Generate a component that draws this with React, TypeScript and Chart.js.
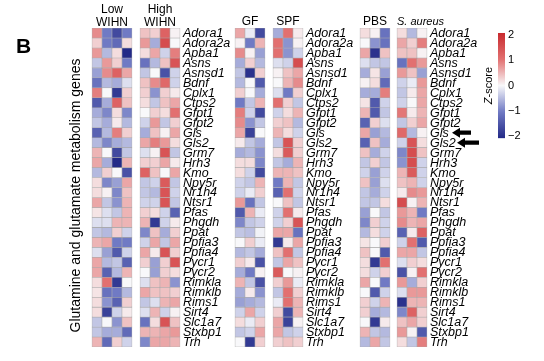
import React, { useEffect, useRef } from 'react';
import { Chart, registerables } from 'chart.js';
Chart.register(...registerables);

const genes = ["Adora1","Adora2a","Apba1","Asns","Asnsd1","Bdnf","Cplx1","Ctps2","Gfpt1","Gfpt2","Gls","Gls2","Grm7","Hrh3","Kmo","Npy5r","Nr1h4","Ntsr1","Pfas","Phgdh","Ppat","Ppfia3","Ppfia4","Pycr1","Pycr2","Rimkla","Rimklb","Rims1","Sirt4","Slc1a7","Stxbp1","Trh"];

const lowWIHN = [
  [0.8,-1,-1.6,-1],[0.3,-1,-1.2,0.2],[0.7,-0.5,0.2,-2],[-0.4,0.7,0.3,-1],[-0.7,0.8,1.2,0.6],
  [-1.1,-0.5,-0.6,-0.2],[0.9,0,-1.8,0.3],[-1.4,-0.6,1.2,0.4],[-0.6,-0.9,0.2,-0.9],[-0.4,-0.6,0.1,-0.5],
  [-1.3,-0.5,0.9,0.3],[-0.5,-0.9,-0.6,-0.5],[0.5,0,-1.6,-0.4],[0.6,-0.6,-2,0.5],[-0.5,0.3,0,-1.5],
  [0.2,-0.9,-0.7,0.6],[0.2,0.05,-0.9,0.4],[0.6,-0.4,-0.8,0.5],[0.15,-0.2,-0.4,0.5],[-0.2,-0.2,0.5,0.5],
  [-0.4,-0.5,0.3,-0.3],[0.5,0.6,-1,-1],[-0.2,-0.7,-1.4,-0.3],[0.6,-0.5,-0.4,-1.3],[0.6,-1.3,-0.5,0.5],
  [0.2,1,-1.8,0],[0.15,-1.1,-1,-0.5],[0.2,-0.8,-1.3,0.3],[0.2,-1.7,-0.3,0.1],[-0.4,0,-0.8,0.4],
  [-0.4,-0.6,-0.6,-1.2],[0.5,-1.2,0.3,-0.3]
];
const highWIHN = [
  [0.4,0.3,1.2,0.05],[0.7,-0.6,1.5,0],[0.2,0.6,-0.3,0.9],[-1.1,-0.5,0.4,1.4],[-0.4,0,-1.5,-0.3],
  [0.4,0.8,1.1,-0.3],[0.3,-0.8,0.3,0.1],[0.2,-0.4,0.4,0.6],[0,0.3,0.2,1.0],[-0.3,0.7,-0.4,0.3],
  [-0.6,0.4,0.05,0.6],[0.6,0.9,0.7,0.2],[-0.2,0.05,1.4,-0.4],[0.3,0.3,0.6,0.1],[1.2,0.4,0,0.6],
  [-0.4,-0.3,1.3,-0.4],[-0.4,-0.5,1.4,-0.3],[-0.3,-0.3,1.4,-0.4],[0.3,0.2,-0.3,-1.3],[0.5,-1.8,-0.3,0.1],
  [-0.9,0.4,-0.6,0.3],[-0.3,0.6,-0.4,0.6],[0.6,0.1,1.4,0.3],[0.3,-0.7,0.3,1.4],[0,-0.7,0.3,0.2],
  [-0.2,0.4,0.5,-0.8],[0.6,0.4,0.4,0.3],[-0.4,-0.2,0.5,0.6],[-0.2,0.5,-0.3,0.05],[-1.1,0.2,1.4,0.4],
  [0.5,0.5,0.6,0.7],[-0.9,0.6,0.6,0.5]
];
const gf = [
  [0.6,-0.1,-1.6],[0.05,-1,0.5],[0.8,0.05,-0.7],[-0.6,0.3,-0.5],[-0.4,-1.9,0.3],
  [-0.5,0,-1.4],[0.3,0,-0.6],[-1,-0.4,0.5],[0.9,-0.3,-1.6],[0.8,-0.8,-0.4],
  [0.6,-1.7,0],[0.1,-0.4,-0.6],[-0.6,-0.5,-0.8],[0.2,0.2,-0.9],[0.2,-0.3,-1.6],
  [-0.3,-0.4,0.5],[-0.3,-0.1,0.3],[0.7,-1.1,-0.4],[-1.4,0.5,-0.1],[-0.9,-0.4,-0.3],
  [-0.4,-0.45,-0.05],[0,0.3,-0.1],[-0.5,-0.4,-0.6],[0.3,0.1,-1.5],[-0.6,-1,0.05],
  [0.5,-0.4,-1.5],[-0.6,0.1,-0.8],[-0.7,-0.6,-0.5],[-0.3,0.6,-0.3],[0.2,-0.1,0.3],
  [-0.4,-0.3,0.6],[0,-1.8,0.3]
];
const spf = [
  [-0.6,1.0,0.1],[1.0,-0.8,0.05],[1.0,-0.8,-0.3],[-0.2,-0.3,1.5],[0.05,0.4,0.6],
  [0,0.5,0.8],[-0.2,-1,0.3],[1.0,0.3,-0.4],[-0.3,0.2,0.5],[0.3,0.4,-0.5],
  [0.5,0.2,-0.3],[-0.4,1.4,0.3],[0.2,1.3,0.3],[-0.4,-0.6,0.5],[0.5,0.5,0.4],
  [-1,0.5,-0.4],[-1.3,1,-0.3],[0,0.4,-0.4],[-0.3,1,0.1],[-0.3,0.3,1.4],
  [0.6,0.6,-1.1],[-1.8,0.1,0.6],[0.4,1,-0.4],[-0.4,0.6,0.4],[1.3,0,0.05],
  [0.3,0.7,-0.1],[-0.4,1,0.3],[-0.1,1,0.5],[0.3,-1.6,0.5],[0.6,-1.7,0.05],
  [0.6,-0.4,-0.3],[0.3,0.4,0.3]
];
const pbs = [
  [0.2,0.05,-1.1],[0,-0.8,-1.1],[0.6,-1.9,0.4],[-0.2,-0.4,-0.4],[-0.6,0.15,-0.7],
  [0.05,0.2,-1.2],[-0.6,-0.6,0.9],[0.15,-1.4,-0.3],[0.5,-1.4,-0.4],[-1.3,0.3,-0.2],
  [0.6,-0.7,-0.5],[-1.3,0.4,-0.6],[0.4,-0.6,-0.3],[-0.4,0.3,-0.4],[-0.3,-0.7,-0.3],
  [0.4,-0.7,-0.2],[-0.4,-0.6,-0.3],[-0.4,-0.4,0.2],[-0.7,0,-0.4],[-0.9,0.3,-0.3],
  [-0.5,0.2,-0.3],[0.15,0,0.3],[0.4,0,-1.4],[0.2,-1.8,1.0],[0.2,-0.3,0.3],
  [0.6,0,-1],[0,-1.4,-0.3],[0.3,-0.3,0.5],[0.3,-0.6,-0.5],[0,-1.8,0.1],
  [0.5,-0.4,-0.5],[-0.5,0.6,-0.4]
];
const sAureus = [
  [0.2,-0.5,0.05],[0.6,0.3,0.9],[0.4,0.4,0.05],[-1.1,1,0.7],[0.7,0.4,-0.7],
  [-0.3,-0.1,0.7],[-0.4,0.1,0.6],[-0.3,0,0.6],[0.95,0.1,0.5],[-0.4,0.3,0.6],
  [1.1,-0.5,0.05],[-0.3,1.4,0.2],[-0.9,1.5,0.4],[-0.8,1.5,-0.3],[0.5,1.3,-0.3],
  [0.4,0.5,-0.3],[0.1,0.8,0.7],[1.5,0.05,0.5],[0.7,0.5,-1],[0.8,0.5,0.6],
  [-1.3,0.1,1.2],[-0.3,1,-1.4],[0.6,0.6,-0.4],[-0.2,0.3,0.2],[-1.5,0.05,1],
  [0.7,-0.6,0.3],[-0.2,0.7,0.7],[-1.9,0.5,0.5],[-0.9,1.2,0.3],[0.4,0.6,0.3],
  [0.7,0.05,-1.4],[0.2,-0.4,0.9]
];

const panelNames = [["Low","WIHN"],["High","WIHN"],["GF"],["SPF"],["PBS"],["S. aureus"]];
const panelValues = [lowWIHN, highWIHN, gf, spf, pbs, sAureus];
const colorbarTicks = [2, 1, 0, -1, -2];
const arrowGenes = ["Gls", "Gls2"];
const yTitle = "Glutamine and glutamate metabolism genes";

// layout (x-scale units; one unit = one heatmap column)
const panelColX = [[0,1,2,3],[4.8,5.8,6.8,7.8],[14.3,15.3,16.3],[18.1,19.1,20.1],[26.8,27.8,28.8],[30.5,31.5,32.5]];
const labelX = [8.6, 20.9, 33.3];
const arrowX = [[35.5, 37.4], [36.0, 38.2]];
const colorbarX = 40.1;

const stops: [number, number[]][] = [[-2,[35,42,135]],[-1,[112,122,196]],[0,[248,248,250]],[1,[226,112,112]],[2,[200,42,46]]];
function zColor(v: number) {
  const z = Math.max(-2, Math.min(2, v));
  for (let i = 0; i < stops.length - 1; i++) {
    const [a, ca] = stops[i]; const [b, cb] = stops[i + 1];
    if (z <= b) {
      const t = (z - a) / (b - a);
      const c = ca.map((x, k) => Math.round(x + (cb[k] - x) * t));
      return `rgb(${c[0]},${c[1]},${c[2]})`;
    }
  }
  return 'rgb(200,42,46)';
}

const FONT = "'Liberation Sans', Arial, Helvetica, sans-serif";

const decor = {
  id: 'decor',
  afterDraw(chart: any) {
    const ctx = chart.ctx; const xs = chart.scales.x; const ys = chart.scales.y;
    const top = chart.chartArea.top;
    ctx.save();
    ctx.fillStyle = '#000';
    panelNames.forEach((lines, pi) => {
      const cols = panelColX[pi];
      const cx = (xs.getPixelForValue(cols[0]) + xs.getPixelForValue(cols[cols.length - 1])) / 2;
      ctx.textBaseline = 'middle';
      if (lines[0] === 'S. aureus') {
        ctx.textAlign = 'left'; ctx.font = 'italic 11px ' + FONT;
        ctx.fillText(lines[0], xs.getPixelForValue(cols[0] - 0.5), top - 6);
        return;
      }
      ctx.textAlign = 'center'; ctx.font = '12px ' + FONT;
      if (lines.length === 2) {
        ctx.fillText(lines[0], cx, top - 18);
        ctx.fillText(lines[1], cx, top - 5);
      } else {
        ctx.fillText(lines[0], cx, top - 6);
      }
    });
    ctx.font = 'italic 12.5px ' + FONT; ctx.textAlign = 'left'; ctx.textBaseline = 'middle';
    labelX.forEach((lx) => {
      const px = xs.getPixelForValue(lx);
      genes.forEach((g, r) => ctx.fillText(g, px, ys.getPixelForValue(r + 0.5) + 0.5));
    });
    arrowGenes.forEach((g, i) => {
      const r = genes.indexOf(g);
      const y = ys.getPixelForValue(r + 0.5);
      const x0 = xs.getPixelForValue(arrowX[i][0]); const x1 = xs.getPixelForValue(arrowX[i][1]);
      ctx.beginPath();
      ctx.moveTo(x0, y); ctx.lineTo(x0 + 8, y - 5); ctx.lineTo(x0 + 8, y - 2.2); ctx.lineTo(x1, y - 2.2);
      ctx.lineTo(x1, y + 2.2); ctx.lineTo(x0 + 8, y + 2.2); ctx.lineTo(x0 + 8, y + 5); ctx.closePath();
      ctx.fill();
    });
    const cbx = xs.getPixelForValue(colorbarX);
    const cbTop = ys.getPixelForValue(0.5); const cbBot = ys.getPixelForValue(11.05);
    const grad = ctx.createLinearGradient(0, cbTop, 0, cbBot);
    stops.slice().reverse().forEach(([z, c]) => grad.addColorStop((2 - z) / 4, `rgb(${c[0]},${c[1]},${c[2]})`));
    ctx.fillStyle = grad; ctx.fillRect(cbx, cbTop, 7, cbBot - cbTop);
    ctx.fillStyle = '#000'; ctx.font = '11px ' + FONT; ctx.textAlign = 'left'; ctx.textBaseline = 'middle';
    colorbarTicks.forEach((t) => {
      const y = cbTop + 2 + (2 - t) / 4 * (cbBot - cbTop - 4);
      ctx.fillText(t < 0 ? '\u2212' + Math.abs(t) : String(t), cbx + 10, y);
    });
    // Z-score title (italic Z)
    ctx.save(); ctx.translate(cbx - 9, (cbTop + cbBot) / 2); ctx.rotate(-Math.PI / 2);
    ctx.textAlign = 'left';
    ctx.font = 'italic 11px ' + FONT; const wz = ctx.measureText('Z').width;
    ctx.font = '11px ' + FONT; const ws = ctx.measureText('-score').width;
    const start = -(wz + ws) / 2;
    ctx.font = 'italic 11px ' + FONT; ctx.fillText('Z', start, 0);
    ctx.font = '11px ' + FONT; ctx.fillText('-score', start + wz, 0);
    ctx.restore();
    ctx.save(); ctx.translate(76, (top + chart.chartArea.bottom) / 2 + 8); ctx.rotate(-Math.PI / 2);
    ctx.textAlign = 'center'; ctx.font = '14px ' + FONT; ctx.fillText(yTitle, 0, 0); ctx.restore();
    ctx.font = 'bold 21px ' + FONT; ctx.textAlign = 'left'; ctx.textBaseline = 'middle';
    ctx.fillText('B', 16, 47);
    ctx.restore();
  }
};

export default function App() {
  const ref = useRef<HTMLCanvasElement>(null);
  useEffect(() => {
    document.body.style.margin = '0';
    const datasets = genes.map((g, r) => {
      const data: any[] = []; const colors: string[] = [];
      panelValues.forEach((pv, pi) => pv[r].forEach((v, ci) => {
        data.push({ x: panelColX[pi][ci], y: [r, r + 1] });
        colors.push(zColor(v));
      }));
      return {
        label: g, data, backgroundColor: colors,
        borderColor: 'rgba(165,165,165,0.9)', borderWidth: 0.6, borderSkipped: false as any,
        grouped: false, categoryPercentage: 1, barPercentage: 1,
      };
    });
    const chart = new Chart(ref.current as HTMLCanvasElement, {
      type: 'bar',
      data: { datasets } as any,
      options: {
        responsive: false, maintainAspectRatio: false, animation: false, devicePixelRatio: 1,
        layout: { padding: { left: 80, right: 4, top: 28, bottom: 14 } },
        plugins: { legend: { display: false }, tooltip: { enabled: false } },
        scales: {
          x: { type: 'linear', min: -1.7, max: 44.3, display: false, offset: false },
          y: { type: 'linear', min: 0, max: 32, reverse: true, display: false, offset: false },
        },
      } as any,
      plugins: [decor],
    });
    return () => chart.destroy();
  }, []);
  return (
    <div style={{ position: 'fixed', left: 0, top: 0, width: 544, height: 361, background: '#fff' }}>
      <canvas ref={ref} width={544} height={361} />
    </div>
  );
}
